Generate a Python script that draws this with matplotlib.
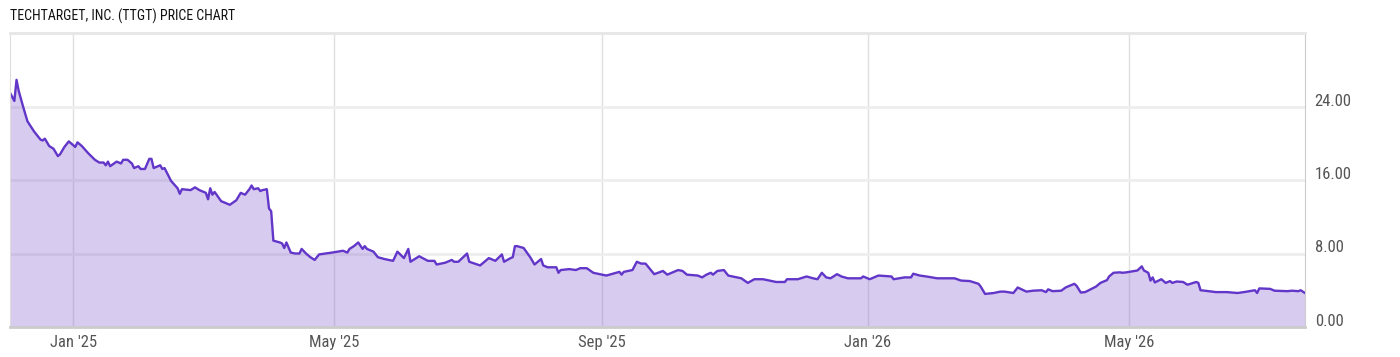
import pandas as pd
import matplotlib
matplotlib.use("Agg")
import matplotlib.pyplot as plt
import matplotlib.dates as mdates
import matplotlib.transforms as mtrans

# days counted from 2025-01-01
day_offsets = [-29, -27, -26, -25, -23, -21, -18, -15, -14, -13, -11, -9, -7, -6, -4, -2,
               1, 2, 4, 7, 10, 12, 14, 15, 16, 17, 20, 22, 23, 25, 27, 28, 30, 31, 33, 35,
               36, 37, 40, 41, 42, 45, 48, 49, 50, 54, 56, 58, 61, 62, 63, 64, 65, 68, 72,
               75, 77, 79, 81, 82, 83, 85, 86, 87, 89, 90, 91, 92, 95, 96, 97, 98, 100, 102,
               104, 105, 107, 109, 111, 113, 116, 119,
               124, 126, 127, 129, 131, 133, 134, 135, 138, 140, 143, 147, 149, 152, 154,
               155, 159, 163, 166, 167, 171, 174, 175, 177, 181, 182, 187, 191, 194, 197,
               198, 201, 202, 203, 204, 207, 210, 212, 215, 216, 218, 222, 223, 224, 228,
               231, 233, 236, 239, 241, 245, 248, 251, 252, 253, 257, 259, 261, 263, 267, 271,
               273, 278, 280, 282, 287, 289, 291, 293, 294, 296, 299, 301, 307, 310, 313,
               317, 323, 327, 328, 333, 337, 340, 342, 344, 346, 348, 351, 353, 356, 362,
               363, 366, 370, 376, 377, 382, 385, 386, 389, 392, 397, 405, 408, 412, 416,
               417, 419, 423, 426,
               428, 432, 434, 438, 441, 445, 447, 448, 450, 454, 456, 460, 461, 463, 465,
               470, 472, 475, 476, 478, 481, 482, 484, 489, 491, 492, 494, 495, 496, 497,
               500, 502, 504, 505, 507, 510, 512, 516, 517, 518, 520, 525, 530, 535, 538,
               543, 544, 545, 550, 552, 558, 560, 563, 564, 566]

prices = [25.5, 24.6, 26.9, 25.7, 24.0, 22.4, 21.3, 20.4, 20.3, 20.5, 19.7, 19.4, 18.6, 18.8, 19.6, 20.2,
          19.6, 20.1, 19.7, 18.9, 18.2, 17.9, 17.9, 17.6, 18.0, 17.5, 18.0, 17.8, 18.2, 18.2, 17.8, 17.3, 17.5, 17.2, 17.2, 18.3,
          18.3, 17.3, 17.6, 17.2, 17.3, 15.9, 15.1, 14.5, 15.0, 14.9, 15.2, 14.9, 14.6, 13.9, 15.1, 14.4, 14.7, 13.7, 13.3,
          13.8, 14.6, 14.4, 15.0, 15.4, 15.0, 15.1, 14.8, 14.9, 15.0, 12.9, 12.6, 9.4, 9.2, 9.1, 8.6, 9.2, 8.1, 8.0,
          8.0, 8.5, 8.0, 7.6, 7.3, 7.9, 8.0, 8.1,
          8.3, 8.1, 8.5, 8.8, 9.2, 8.5, 8.8, 8.5, 8.2, 7.6, 7.4, 7.2, 8.2, 7.5, 8.5,
          7.1, 7.7, 7.2, 7.2, 6.8, 7.0, 7.3, 7.1, 7.1, 8.0, 7.1, 6.7, 7.5, 7.2, 7.9,
          7.1, 7.5, 7.6, 8.8, 8.8, 8.6, 7.6, 6.8, 7.4, 6.7, 6.5, 6.5, 5.9, 6.2, 6.3,
          6.2, 6.4, 6.4, 5.9, 5.8, 5.6, 5.8, 6.0, 5.7, 6.0, 6.2, 7.1, 6.9, 6.9, 5.75, 6.1,
          5.7, 6.2, 6.1, 5.7, 5.6, 5.4, 5.7, 5.9, 5.7, 6.1, 6.2, 5.6, 5.3, 4.8, 5.2,
          5.2, 4.9, 4.9, 5.2, 5.2, 5.5, 5.3, 5.2, 5.9, 5.4, 5.3, 5.75, 5.5, 5.3, 5.3,
          5.5, 5.2, 5.6, 5.5, 5.2, 5.4, 5.4, 5.8, 5.6, 5.5, 5.3, 5.3, 5.05, 5.0, 4.7,
          4.4, 3.6, 3.7, 3.85,
          3.85, 3.7, 4.3, 3.85, 3.95, 4.0, 3.8, 4.1, 3.9, 3.95, 4.3, 4.7, 4.5, 3.75, 3.8,
          4.4, 4.8, 5.1, 5.5, 5.9, 5.95, 5.9, 5.95, 6.15, 6.6, 6.15, 5.9, 5.05, 5.4, 4.85,
          5.2, 4.8, 5.0, 4.8, 4.95, 4.9, 4.6, 4.9, 4.8, 4.0, 3.95, 3.8, 3.8, 3.7, 3.8,
          4.0, 3.7, 4.2, 4.15, 3.95, 3.9, 3.95, 3.9, 4.0, 3.7]

y_ticks = [0, 8, 16, 24]
title = "TECHTARGET, INC. (TTGT) PRICE CHART"

dates = pd.Timestamp("2025-01-01") + pd.to_timedelta(day_offsets, unit="D")

plt.rcParams['font.family'] = ['Roboto Condensed', 'Barlow Semi Condensed', 'DejaVu Sans']

fig = plt.figure(figsize=(14, 3.57), dpi=100)
ax = fig.add_axes([10 / 1400, 30 / 357, 1295 / 1400, 294 / 357])

# fill is see-through so the grid shows faintly under it
ax.fill_between(dates, prices, 0, color="#7d55cd", alpha=0.3, linewidth=0, zorder=1)
ax.plot(dates, prices, color="#6236c9", linewidth=1.7, zorder=2)

ax.set_xlim(dates[0], dates[-1])
ax.set_ylim(0, 32)

ax.set_yticks(y_ticks)
ax.set_yticklabels(["%.2f" % v for v in y_ticks])
ax.xaxis.set_major_locator(mdates.MonthLocator(bymonth=[1, 5, 9]))
ax.xaxis.set_major_formatter(mdates.DateFormatter("%b '%y"))
ax.set_axisbelow(True)
ax.grid(axis="y", color="#eeeeee", linewidth=2)
ax.grid(axis="x", color="#e0e0e0", linewidth=1)

ax.yaxis.tick_right()
ax.tick_params(axis="both", length=0, labelsize=12, colors="#555555")
ax.tick_params(axis="y", pad=7)
ax.tick_params(axis="x", pad=6)
offset = mtrans.ScaledTranslation(0, 7 / 100, fig.dpi_scale_trans)
for lab in ax.get_yticklabels():
    lab.set_transform(lab.get_transform() + offset)

ax.spines["left"].set_color("#dddddd")
ax.spines["right"].set_color("#cccccc")
ax.spines["top"].set_color("#e6e6e6")
ax.spines["top"].set_linewidth(2)
ax.spines["bottom"].set_color("#cccccc")
ax.spines["bottom"].set_linewidth(2)

fig.text(10 / 1400, 1 - 16 / 357, title, fontsize=10, color="#111111",
         va="center", ha="left")

fig.savefig("out.png", dpi=100)
